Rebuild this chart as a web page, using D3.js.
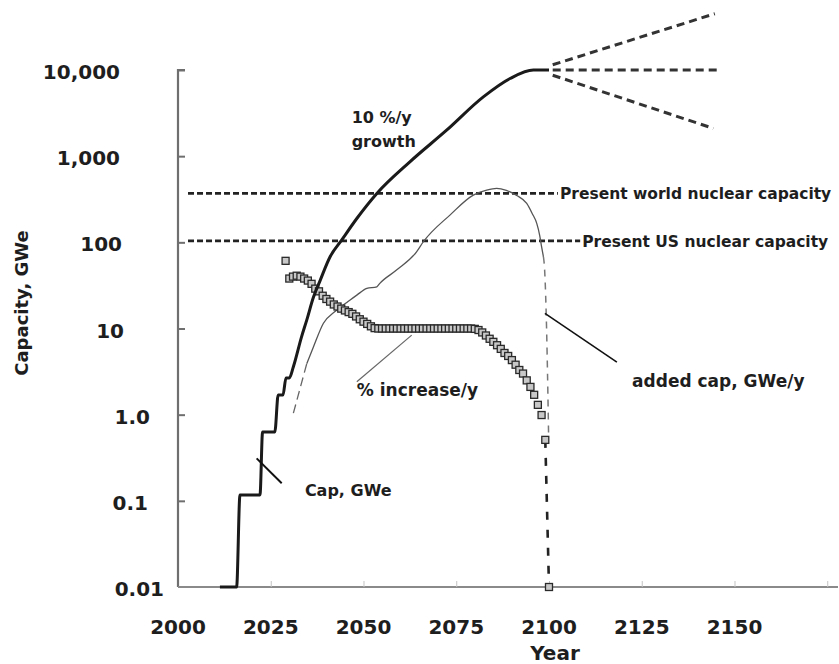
<!DOCTYPE html>
<html>
<head>
<meta charset="utf-8">
<script src="https://cdn.jsdelivr.net/npm/d3@7"></script>
<style>
  body { margin: 0; background: #fff; }
  text { font-family: "DejaVu Sans", Verdana, sans-serif; font-weight: bold; fill: #1e1e1e; }
</style>
</head>
<body>
<svg id="chart" width="839" height="664"></svg>
<script>
// ---- axis ticks ----
const xTickLabels = [2000, 2025, 2050, 2075, 2100, 2125, 2150];
const xTickMarks = [2025, 2050, 2075, 2100, 2125, 2150, 2175];
const yTickValues = [10000, 1000, 100, 10, 1, 0.1, 0.01];
const yTickLabels = ["10,000", "1,000", "100", "10", "1.0", "0.1", "0.01"];

// ---- installed capacity, GWe ----
const capYears = [2011.3, 2015.8, 2016.7, 2022.1, 2022.8, 2026.1, 2027.0, 2028.3, 2029.1, 2030.0,
  2031.1, 2033.3, 2034.7, 2036.5, 2038.3, 2041.0, 2044.1, 2048.2, 2053.6, 2062.5, 2072.4,
  2082.3, 2089.5, 2095.8, 2100];
const capValues = [0.01, 0.01, 0.117, 0.117, 0.63, 0.63, 1.69, 1.69, 2.66, 2.66,
  3.6, 8.0, 12.5, 23, 36, 68, 106, 189, 369, 859, 2000,
  4875, 7960, 10000, 10000];

// ---- scenarios beyond 2100 ----
const projHighYears = [2101, 2144.7];
const projHighValues = [11500, 45000];
const projFlatYears = [2101, 2146.5];
const projFlatValues = [10000, 10000];
const projLowYears = [2101, 2144.3];
const projLowValues = [8700, 2100];

// ---- growth rate, % increase per year ----
const pctYears = [2029, 2030, 2031, 2032, 2033, 2034, 2035, 2036, 2037, 2038, 2039,
  2040, 2041, 2042, 2043, 2044, 2045, 2046, 2047, 2048, 2049,
  2050, 2051, 2052, 2053, 2054, 2055, 2056, 2057, 2058, 2059,
  2060, 2061, 2062, 2063, 2064, 2065, 2066, 2067, 2068, 2069,
  2070, 2071, 2072, 2073, 2074, 2075, 2076, 2077, 2078, 2079,
  2080, 2081, 2082, 2083, 2084, 2085, 2086, 2087, 2088, 2089,
  2090, 2091, 2092, 2093, 2094, 2095, 2096, 2097, 2098, 2099, 2100];
const pctValues = [61, 38, 40, 41, 40, 38, 36, 33, 29, 27, 24,
  22, 20.5, 19, 18, 17, 16.2, 15.5, 14.8, 13.8, 12.8,
  12, 11.3, 10.6, 10.1, 10, 10, 10, 10, 10, 10,
  10, 10, 10, 10, 10, 10, 10, 10, 10, 10,
  10, 10, 10, 10, 10, 10, 10, 10, 10, 10,
  9.9, 9.6, 9.0, 8.3, 7.6, 7.0, 6.4, 5.8, 5.2, 4.8,
  4.3, 3.8, 3.3, 3.0, 2.5, 2.1, 1.7, 1.3, 0.99, 0.51, 0.01];

// ---- added capacity, GWe per year ----
const addStartYears = [2031.1, 2034.7];
const addStartValues = [1.04, 3.9];
const addYears = [2034.7, 2036.5, 2039.2, 2042.5, 2045.5, 2048.2, 2050.9, 2053.6, 2054.4, 2058.9,
  2064.3, 2066.1, 2073.3, 2079.6, 2083.2, 2085.9, 2088.5, 2091.3, 2094.0, 2095.5,
  2096.7, 2097.5, 2098.0, 2098.5];
const addValues = [3.9, 6.1, 11.5, 16, 20, 24.4, 29.2, 30.5, 33.4, 47.6,
  77.6, 101, 207, 353, 403, 422, 400, 350, 283, 215,
  166, 120, 89, 68];
const addEndYears = [2098.5, 2098.8, 2099.4, 2099.8, 2099.9];
const addEndValues = [68, 50, 8, 1.0, 0.55];

// ---- reference capacities ----
const refNames = ["Present world nuclear capacity", "Present US nuclear capacity"];
const refValues = [370, 104];
const refStartYear = 2002.7;
const refEndYears = [2102.4, 2108.4];

// ---- chart frame ----
const svg = d3.select("#chart");
const x = d3.scaleLinear().domain([2000, 2177.9]).range([178, 838]);
const y = d3.scaleLog().domain([0.01, 10000]).range([587, 70]);

const zip = (xs, ys) => xs.map((v, i) => [v, ys[i]]);
const line = d3.line().x(d => x(d[0])).y(d => y(d[1]));
const smooth = d3.line().x(d => x(d[0])).y(d => y(d[1])).curve(d3.curveMonotoneX);

// y axis with inward ticks
const yAxis = svg.append("g").attr("transform", `translate(${x(2000)},0)`)
  .call(d3.axisRight(y).tickValues(yTickValues).tickSize(7).tickFormat(""));
yAxis.select(".domain").attr("stroke", "#6f6f6f").attr("stroke-width", 2.2)
  .attr("d", `M7,${y(10000)}H0V${y(0.01)}`);
yAxis.selectAll(".tick line").attr("stroke", "#6f6f6f").attr("stroke-width", 2);
yAxis.selectAll(".tick").filter(d => d === 0.01).remove();

// x axis with upward ticks
const xAxis = svg.append("g").attr("transform", `translate(0,${y(0.01)})`)
  .call(d3.axisTop(x).tickValues(xTickMarks).tickSize(6).tickFormat(""));
xAxis.select(".domain").attr("stroke", "#8a8a8a").attr("stroke-width", 2.2)
  .attr("d", `M${x(2000)},0H${x(2177.9)}`);
xAxis.selectAll(".tick line").attr("stroke", "#c4c4c4").attr("stroke-width", 1);

// tick labels; each y label has its own right edge
const yLabelRight = [120, 120, 122, 124, 150, 148, 164];
svg.append("g").selectAll("text").data(yTickValues).join("text")
  .attr("x", (d, i) => yLabelRight[i])
  .attr("y", d => y(d) + 9)
  .attr("text-anchor", "end")
  .style("font-size", "20px")
  .text((d, i) => yTickLabels[i]);

svg.append("g").selectAll("text").data(xTickLabels).join("text")
  .attr("x", d => x(d))
  .attr("y", 634)
  .attr("text-anchor", "middle")
  .style("font-size", "20px")
  .text(d => d);

svg.append("text").attr("x", 555).attr("y", 660).attr("text-anchor", "middle")
  .style("font-size", "20px").text("Year");
svg.append("text").attr("transform", "translate(28,303) rotate(-90)")
  .attr("text-anchor", "middle").style("font-size", "18px").text("Capacity, GWe");

// reference capacity levels
refValues.forEach((v, i) => {
  svg.append("path").attr("d", line([[refStartYear, v], [refEndYears[i], v]]))
    .attr("fill", "none").attr("stroke", "#222").attr("stroke-width", 2.6)
    .attr("stroke-dasharray", "6,3");
  svg.append("text").attr("x", x(refEndYears[i]) + 2).attr("y", y(v) + 6)
    .style("font-size", "15.5px").text(refNames[i]);
});

// added capacity per year (thin line, dashed at both ends)
svg.append("path").attr("d", line(zip(addStartYears, addStartValues)))
  .attr("fill", "none").attr("stroke", "#666").attr("stroke-width", 1.3)
  .attr("stroke-dasharray", "9,5");
svg.append("path").attr("d", smooth(zip(addYears, addValues)))
  .attr("fill", "none").attr("stroke", "#555").attr("stroke-width", 1.3);
svg.append("path").attr("d", smooth(zip(addEndYears, addEndValues)))
  .attr("fill", "none").attr("stroke", "#777").attr("stroke-width", 1.5)
  .attr("stroke-dasharray", "7,6");

// growth rate squares; final drop drawn dashed
const pct = zip(pctYears, pctValues);
svg.append("path").attr("d", line(pct.slice(-2)))
  .attr("fill", "none").attr("stroke", "#222").attr("stroke-width", 2.6)
  .attr("stroke-dasharray", "8,10");
svg.append("g").selectAll("rect").data(pct).join("rect")
  .attr("x", d => x(d[0]) - 3.5).attr("y", d => y(d[1]) - 3.5)
  .attr("width", 7).attr("height", 7)
  .attr("fill", "#c8c8c8").attr("stroke", "#2a2a2a").attr("stroke-width", 1.3);

// installed capacity
svg.append("path").attr("d", smooth(zip(capYears, capValues)))
  .attr("fill", "none").attr("stroke", "#1a1a1a").attr("stroke-width", 3)
  .attr("stroke-linejoin", "round");

// post-2100 scenarios
[[projHighYears, projHighValues], [projFlatYears, projFlatValues], [projLowYears, projLowValues]]
  .forEach(([ys, vs]) => {
    svg.append("path").attr("d", line(zip(ys, vs)))
      .attr("fill", "none").attr("stroke", "#333").attr("stroke-width", 3)
      .attr("stroke-dasharray", "8,5");
  });

// annotations with leader lines
const leaders = [
  { from: [2021.2, 0.311], to: [2027.95, 0.16], color: "#111", w: 2 },
  { from: [2048.2, 2.41], to: [2063.0, 8.38], color: "#666", w: 1.2 },
  { from: [2098.9, 15.0], to: [2118.3, 4.08], color: "#111", w: 1.6 }
];
leaders.forEach(l => {
  svg.append("path").attr("d", line([l.from, l.to]))
    .attr("stroke", l.color).attr("stroke-width", l.w).attr("fill", "none");
});

const notes = [
  { text: "10 %/y", at: [2046.8, 2400], size: 16 },
  { text: "growth", at: [2046.8, 1270], size: 16 },
  { text: "% increase/y", at: [2048.2, 1.64], size: 17 },
  { text: "Cap, GWe", at: [2034.2, 0.114], size: 16 },
  { text: "added cap, GWe/y", at: [2122.4, 2.09], size: 17 }
];
notes.forEach(n => {
  svg.append("text").attr("x", x(n.at[0])).attr("y", y(n.at[1]))
    .style("font-size", n.size + "px").text(n.text);
});
</script>
</body>
</html>
